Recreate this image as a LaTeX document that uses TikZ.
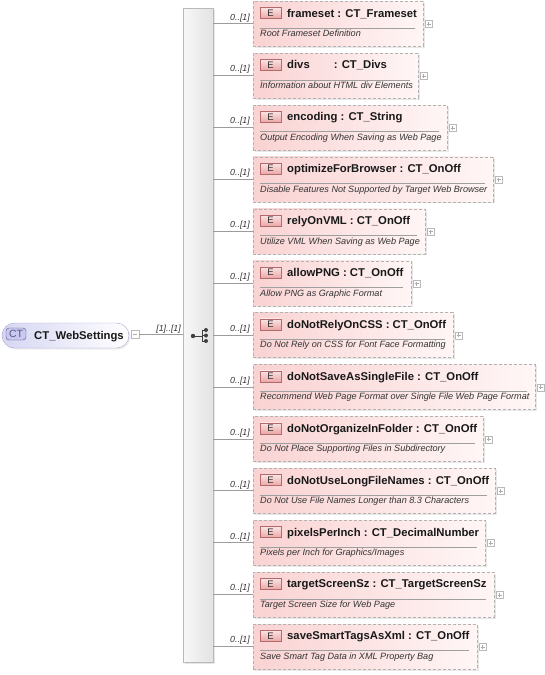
\documentclass[tikz,border=0pt]{standalone}
\usepackage{fontspec}
\setmainfont{Liberation Sans}
\usetikzlibrary{shadows}

\definecolor{elemL}{HTML}{FAD2D2}
\definecolor{elemR}{HTML}{FFF6F6}
\definecolor{ebadgeT}{HTML}{FBE4E4}
\definecolor{ebadgeB}{HTML}{EBA6A6}
\definecolor{ebadgeD}{HTML}{B46A6A}
\definecolor{ctL}{HTML}{D6D6F4}
\definecolor{ctD}{HTML}{A8A8D4}
\definecolor{ctbadge}{HTML}{C8C8F0}
\definecolor{ctbadgeD}{HTML}{55557F}
\definecolor{lineG}{HTML}{9C9C9C}

\tikzset{
  elembox/.style={draw=gray!60, dash pattern=on 3pt off 2pt, left color=elemL, right color=elemR,
    inner sep=0pt, minimum height=45pt, anchor=north west,
    drop shadow={shadow xshift=1.5pt, shadow yshift=-1.5pt, opacity=0.18}},
  ebadge/.style={draw=ebadgeD, top color=ebadgeT, bottom color=ebadgeB, minimum width=21pt,
    minimum height=11pt, inner sep=0pt, text=black!80, font=\fontsize{9.5}{10}\selectfont},
  elemtitle/.style={anchor=base west, inner sep=0pt, text=black!90, font=\fontsize{11.3}{13}\selectfont\bfseries},
  elemdesc/.style={anchor=base west, inner sep=0pt, text=black!80, font=\fontsize{9.1}{10}\selectfont\itshape},
  card/.style={anchor=base east, inner sep=0pt, text=black!80, font=\fontsize{8.8}{10}\selectfont\itshape},
  sepline/.style={draw=gray!75, line width=0.7pt},
  conn/.style={draw=lineG, line width=0.7pt},
  plusbox/.style={draw=gray!55, fill=white, minimum size=7pt, inner sep=0pt,
    path picture={\draw[gray!65, line width=0.5pt]
      ([xshift=-2pt]path picture bounding box.center) -- ([xshift=2pt]path picture bounding box.center)
      ([yshift=-2pt]path picture bounding box.center) -- ([yshift=2pt]path picture bounding box.center);}},
  minusbox/.style={draw=gray!55, fill=white, minimum size=8pt, inner sep=0pt,
    path picture={\draw[gray!65, line width=0.5pt]
      ([xshift=-2pt]path picture bounding box.center) -- ([xshift=2pt]path picture bounding box.center);}},
  seqbar/.style={draw=gray!55, left color=gray!6, right color=gray!22, minimum width=30pt,
    minimum height=654pt, inner sep=0pt,
    drop shadow={shadow xshift=1.5pt, shadow yshift=-1.5pt, opacity=0.2}},
  ctbox/.style={draw=ctD, left color=ctL, right color=white, rounded corners=12.5pt,
    minimum width=127pt, minimum height=25pt, inner sep=0pt,
    drop shadow={shadow xshift=1.5pt, shadow yshift=-1.5pt, opacity=0.15}},
  ctbadge/.style={draw=ctbadgeD, fill=ctbadge, rounded corners=3pt, minimum width=20pt,
    minimum height=12pt, inner sep=0pt, text=ctbadgeD, font=\fontsize{10.5}{11}\selectfont}
}

\begin{document}
\begin{tikzpicture}[x=1pt, y=-1pt]
        \useasboundingbox (0,0) rectangle (544,675);

        % ==== DEFINITIONS ====
        % #1 row, #2 name, #3 title, #4 description, #5 right edge
        \def\elem#1#2#3#4#5{%
          \pgfmathsetmacro\ly{23+51.9*#1}
          \pgfmathsetmacro\bw{#5-253}
          \node[elembox, minimum width=\bw pt] (#2) at (253,\ly-22) {};
          \node[ebadge] (#2-e) at (270.5,\ly-10) {E};
          \node[elemtitle] (#2-t) at (287,\ly-6) {#3};
          \draw[sepline] (260,\ly+5) -- (#5-8,\ly+5);
          \node[elemdesc] (#2-d) at (260,\ly+13.5) {#4};
          \node[plusbox] (#2-p) at (#5+5.5,\ly+1) {};
          \draw[conn] (seq.east |- #2.west) -- (#2.west);
          \node[card] (#2-c) at (250,\ly-3) {0..[1]};
        }

        % ==== SEQUENCE BAR ====
        \node[seqbar] (seq) at (198,335) {};
        \fill[black!75] (193,336) circle(2.2pt);
        \draw[black!75, line width=1pt] (193,336) -- (202,336)
          (202,330) -- (202,341) (202,330) -- (206,330) (202,335.5) -- (206,335.5) (202,341) -- (206,341);
        \fill[black!75] (206,330) circle(2pt) (206,335.5) circle(2pt) (206,341) circle(2pt);

        % ==== CT_WebSettings ====
        \node[ctbox] (web) at (65.5,335.5) {};
        \node[ctbadge] (web-ct) at (16,334) {CT};
        \node[elemtitle] (web-t) at (34,339) {CT\_WebSettings};
        \node[minusbox] (web-m) at (135,334) {};
        \draw[conn] (web-m.east) -- (web-m.east -| seq.west);
        \node[card] (web-c) at (181,331) {[1]..[1]};

        % ==== ELEMENTS ====
        \elem{0}{frameset}{frameset : CT\_Frameset}{Root Frameset Definition}{423}
        \elem{1}{divs}{divs\hspace{24pt}: CT\_Divs}{Information about HTML div Elements}{418}
        \elem{2}{encoding}{encoding : CT\_String}{Output Encoding When Saving as Web Page}{447}
        \elem{3}{optimizeForBrowser}{optimizeForBrowser : CT\_OnOff}{Disable Features Not Supported by Target Web Browser}{493}
        \elem{4}{relyOnVML}{relyOnVML : CT\_OnOff}{Utilize VML When Saving as Web Page}{425}
        \elem{5}{allowPNG}{allowPNG : CT\_OnOff}{Allow PNG as Graphic Format}{411}
        \elem{6}{doNotRelyOnCSS}{doNotRelyOnCSS : CT\_OnOff}{Do Not Rely on CSS for Font Face Formatting}{453}
        \elem{7}{doNotSaveAsSingleFile}{doNotSaveAsSingleFile : CT\_OnOff}{Recommend Web Page Format over Single File Web Page Format}{535}
        \elem{8}{doNotOrganizeInFolder}{doNotOrganizeInFolder : CT\_OnOff}{Do Not Place Supporting Files in Subdirectory}{483}
        \elem{9}{doNotUseLongFileNames}{doNotUseLongFileNames : CT\_OnOff}{Do Not Use File Names Longer than 8.3 Characters}{495}
        \elem{10}{pixelsPerInch}{pixelsPerInch : CT\_DecimalNumber}{Pixels per Inch for Graphics/Images}{485}
        \elem{11}{targetScreenSz}{targetScreenSz : CT\_TargetScreenSz}{Target Screen Size for Web Page}{494}
        \elem{12}{saveSmartTagsAsXml}{saveSmartTagsAsXml : CT\_OnOff}{Save Smart Tag Data in XML Property Bag}{477}
    \end{tikzpicture}
\end{document}
